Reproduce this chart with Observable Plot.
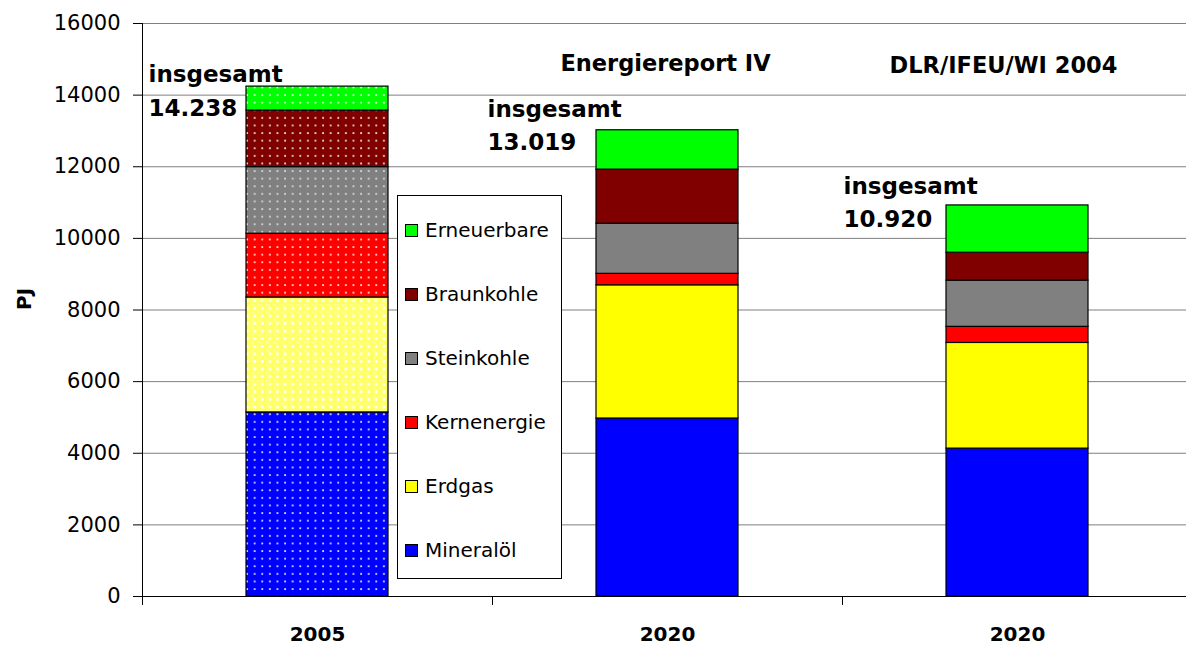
<!DOCTYPE html>
<html><head><meta charset="utf-8">
<script src="https://cdn.jsdelivr.net/npm/d3@7"></script>
<script src="https://cdn.jsdelivr.net/npm/@observablehq/plot@0.6"></script>
<style>
html,body{margin:0;padding:0;background:#fff;}
#wrap{position:relative;width:1186px;height:646px;font-family:"DejaVu Sans",sans-serif;overflow:hidden;}
#wrap svg{position:absolute;left:0;top:0;}
#legend{position:absolute;left:397px;top:195px;width:163px;height:382px;border:1px solid #000;background:#fff;}
.item{position:absolute;left:0;height:24px;display:flex;align-items:center;font-size:20px;color:#000;white-space:nowrap;}
.sw{width:11px;height:11px;border:1px solid #000;margin-left:7px;margin-right:7px;flex:none;}
</style></head>
<body>
<svg width="0" height="0" style="position:absolute">
<defs>
<pattern id="pat0" patternUnits="userSpaceOnUse" width="7.6" height="7.6"><rect width="7.6" height="7.6" fill="#0000ff"/><rect x="3" y="3" width="1.8" height="1.8" fill="#fff" opacity="0.85"/></pattern>
<pattern id="pat1" patternUnits="userSpaceOnUse" width="7.6" height="7.6"><rect width="7.6" height="7.6" fill="#ffff66"/><rect x="0" y="0" width="1" height="1" fill="#fff" opacity="0.5"/><rect x="2" y="0" width="1" height="1" fill="#fff" opacity="0.5"/><rect x="1" y="1" width="1" height="1" fill="#fff" opacity="0.5"/><rect x="3" y="2.8" width="1.8" height="3" fill="#fff" opacity="0.9"/><rect x="2.4" y="3.4" width="3" height="1.8" fill="#fff" opacity="0.9"/></pattern>
<pattern id="pat2" patternUnits="userSpaceOnUse" width="7.6" height="7.6"><rect width="7.6" height="7.6" fill="#ff0000"/><rect x="3" y="3" width="1.8" height="1.8" fill="#fff" opacity="0.85"/></pattern>
<pattern id="pat3" patternUnits="userSpaceOnUse" width="7.6" height="7.6"><rect width="7.6" height="7.6" fill="#808080"/><rect x="3" y="3" width="1.8" height="1.8" fill="#e6e6e6" opacity="0.85"/></pattern>
<pattern id="pat4" patternUnits="userSpaceOnUse" width="7.6" height="7.6"><rect width="7.6" height="7.6" fill="#800000"/><rect x="3" y="3" width="1.8" height="1.8" fill="#fff" opacity="0.85"/></pattern>
<pattern id="pat5" patternUnits="userSpaceOnUse" width="7.6" height="7.6"><rect width="7.6" height="7.6" fill="#00ff00"/><rect x="3" y="3" width="1.8" height="1.8" fill="#fff" opacity="0.85"/></pattern>
</defs>
</svg>
<div id="wrap"><div id="legend"></div></div>
<script>
// ---- data ----
const scenarios = ["2005", "Energiereport IV", "DLR/IFEU/WI 2004"];
const yearLabels = ["2005", "2020", "2020"];
const sourceTitles = ["", "Energiereport IV", "DLR/IFEU/WI 2004"];
const fuels = ["Mineralöl", "Erdgas", "Kernenergie", "Steinkohle", "Braunkohle", "Erneuerbare"];
const fuelColors = ["#0000ff", "#ffff00", "#ff0000", "#808080", "#800000", "#00ff00"];
const values2005 = [5140, 3210, 1780, 1860, 1580, 668];
const valuesER = [4970, 3720, 320, 1400, 1510, 1099];
const valuesDLR = [4130, 2950, 450, 1290, 780, 1320];
const totals = [14238, 13019, 10920];
const totalWord = "insgesamt";
const yTicks = [0, 2000, 4000, 6000, 8000, 10000, 12000, 14000, 16000];
const yLabel = "PJ";

// ---- build table ----
const seriesValues = [values2005, valuesER, valuesDLR];
const rows = [];
seriesValues.forEach((vals, si) => vals.forEach((v, fi) => rows.push({
  scenario: scenarios[si], fuel: fuels[fi], value: v,
  fill: si === 0 ? `url(#pat${fi})` : fuelColors[fi]
})));
const de = d3.formatLocale({decimal: ",", thousands: ".", grouping: [3], currency: ["", " €"]});
const fmt = de.format(",");
const totalRows = scenarios.map((s, i) => ({scenario: s, total: totals[i]}));
const titleRows = scenarios.map((s, i) => ({scenario: s, title: sourceTitles[i]})).filter(d => d.title);

const labelOffsets = [[-169, 29], [-180, 20], [-174, 22]];
const titleOffsets = {"Energiereport IV": -2, "DLR/IFEU/WI 2004": -14};

const marks = [
  Plot.ruleY(yTicks.slice(1), {stroke: "#000", strokeWidth: 1, strokeOpacity: 0.5}),
  Plot.barY(rows, {x: "scenario", y: "value", fill: "fill", stroke: "#000", strokeWidth: 1.2}),
  Plot.ruleY([0], {stroke: "#000", strokeWidth: 1}),
  Plot.ruleX([scenarios[0]], {x: d => d, dx: -175, y1: 0, y2: yTicks[yTicks.length - 1], stroke: "#000"}),
  Plot.axisY({ticks: yTicks, tickSize: 9, tickPadding: 13, tickFormat: "d", label: null, fontSize: 21}),
  Plot.axisX({tickSize: 0, tickPadding: 30, tickFormat: d => yearLabels[scenarios.indexOf(d)], label: null, fontWeight: "bold", fontSize: 20}),
  Plot.ruleX(scenarios, {x: d => d, dx: -175, y1: 0, y2: -250, stroke: "#000"}),
  Plot.text([yLabel], {frameAnchor: "left", dx: -118, rotate: -90, fontWeight: "bold", fontSize: 20}),
  ...titleRows.map(d => Plot.text([d], {x: "scenario", frameAnchor: "top", text: "title", lineAnchor: "bottom", dy: d.title === "Energiereport IV" ? 47 : 49, dx: titleOffsets[d.title], fontSize: 22.5, fontWeight: "bold"})),
  ...totalRows.map((d, i) => Plot.text([d], {x: "scenario", y: "total", text: r => `${totalWord}\n${fmt(r.total)}`, textAnchor: "start", lineAnchor: "bottom", lineHeight: 1.45, dx: labelOffsets[i][0], dy: labelOffsets[i][1], fontSize: 23, fontWeight: "bold"}))
];

const chart = Plot.plot({
  width: 1186, height: 646,
  marginTop: 23, marginBottom: 50, marginLeft: 142, marginRight: 0,
  style: {fontFamily: "DejaVu Sans", fontSize: "20px", color: "#000", background: "transparent", overflow: "visible"},
  x: {domain: scenarios, range: [142, 1192], paddingInner: 0.594, paddingOuter: 0.297, align: 0.5},
  y: {domain: [0, 16000]},
  color: {type: "identity"},
  marks
});
const wrap = document.getElementById("wrap");
wrap.insertBefore(chart, wrap.firstChild);

// ---- legend ----
const legend = document.getElementById("legend");
fuels.slice().reverse().forEach((f, k) => {
  const fi = fuels.indexOf(f);
  const item = document.createElement("div");
  item.className = "item";
  item.style.top = (34 + 64 * k - 12) + "px";
  const sw = document.createElement("span");
  sw.className = "sw";
  sw.style.background = fuelColors[fi];
  const t = document.createElement("span");
  t.textContent = f;
  item.appendChild(sw); item.appendChild(t);
  legend.appendChild(item);
});
</script>
</body></html>
